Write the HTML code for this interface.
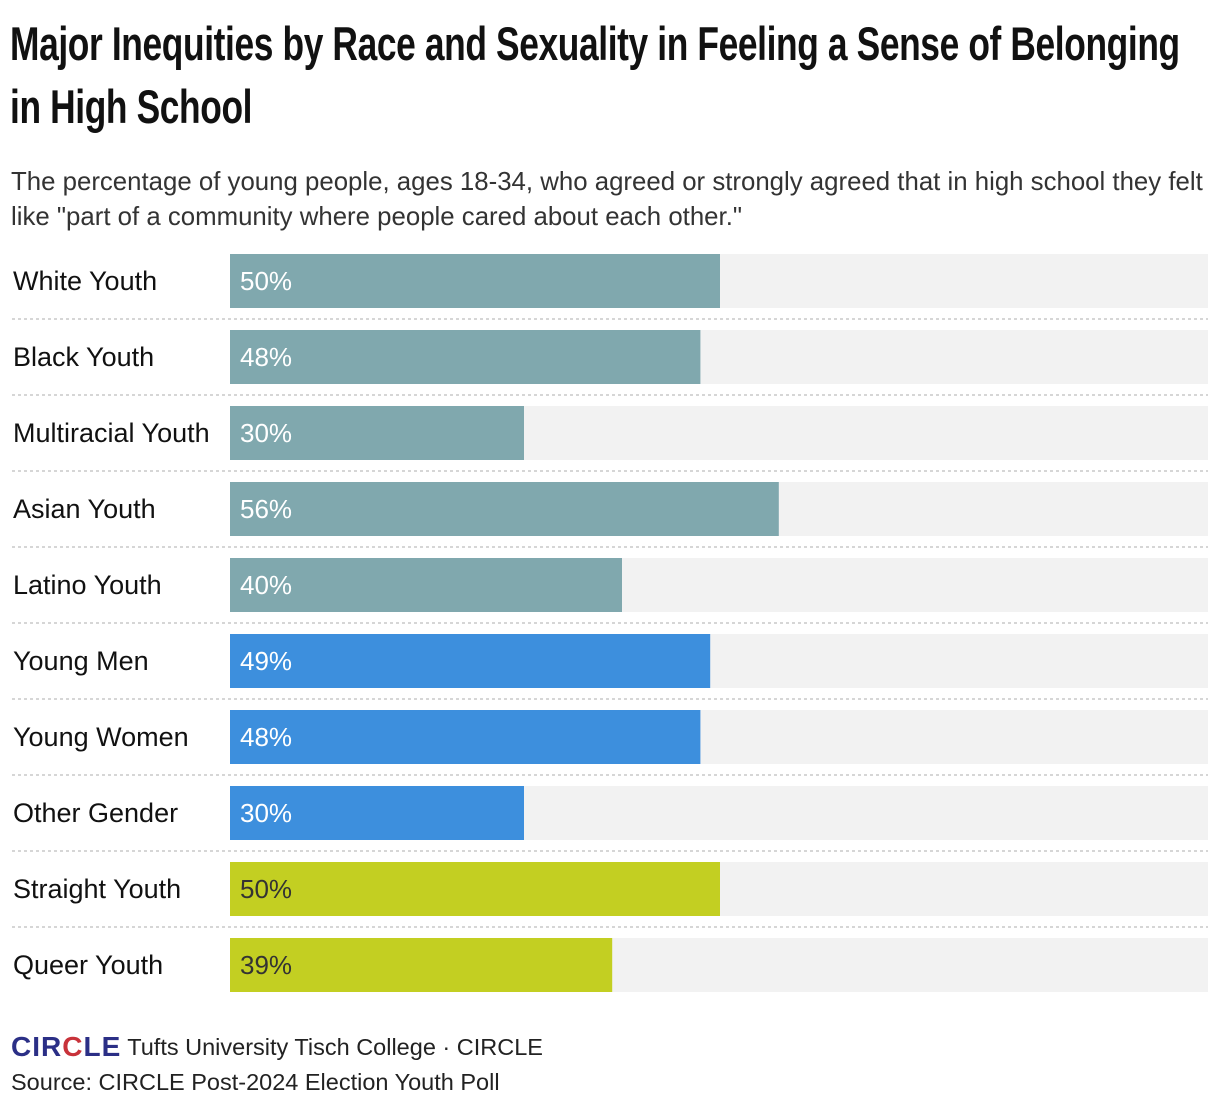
<!DOCTYPE html>
<html><head><meta charset="utf-8">
<style>
body{margin:0;background:#fff;width:1220px;height:1114px;overflow:hidden;font-family:"Liberation Sans",sans-serif;color:#111}
#title{position:absolute;left:10px;top:12px;font-family:"Liberation Sans",sans-serif;font-weight:bold;font-size:47px;line-height:63px;letter-spacing:-0.5px;margin:0;white-space:nowrap;transform:scaleX(0.752);transform-origin:0 0}
#sub{position:absolute;left:11px;top:165px;font-size:25.8px;line-height:35px;color:#333;width:1210px;white-space:nowrap}
#chart{position:absolute;left:0;top:0}
#foot{position:absolute;left:11px;top:1031px;color:#222}
</style></head><body>
<div id="title">Major Inequities by Race and Sexuality in Feeling a Sense of Belonging<br>in High School</div>
<div id="sub">The percentage of young people, ages 18-34, who agreed or strongly agreed that in high school they felt<br>like "part of a community where people cared about each other."</div>
<svg id="chart" width="1220" height="1114"></svg>
<div id="foot">
<div style="display:flex;align-items:center;height:32px;font-size:23.5px"><span style="font-weight:bold;font-size:28px;color:#2b2f86;letter-spacing:1px;margin-right:6px">CIR<span style="color:#c8323a">C</span>LE</span>Tufts University Tisch College · CIRCLE</div>
<div style="margin-top:6px;font-size:23.5px">Source: CIRCLE Post-2024 Election Youth Poll</div>
</div>
<script>
const categories=["White Youth","Black Youth","Multiracial Youth","Asian Youth","Latino Youth","Young Men","Young Women","Other Gender","Straight Youth","Queer Youth"];
const values=[50,48,30,56,40,49,48,30,50,39];
const groups=["race","race","race","race","race","gender","gender","gender","sex","sex"];
const colors={race:"#80a8ae",gender:"#3d8fdd",sex:"#c3cf22"};
const textColors={race:"#fff",gender:"#fff",sex:"#333"};
const NS="http://www.w3.org/2000/svg";
const svg=document.getElementById("chart");
const x0=230,trackW=978,top0=254,step=76,bh=54;
const xs=v=>v/100*980;
const ys=i=>top0+i*step;
function mk(t,a){const e=document.createElementNS(NS,t);for(const k in a)e.setAttribute(k,a[k]);svg.appendChild(e);return e;}
categories.forEach((c,i)=>{
 const y=ys(i);
 const tr=mk("rect",{x:x0,y:y,width:trackW,height:bh,fill:"#f2f2f2"});
 
 
 const b=mk("rect",{x:x0,y:y,width:xs(values[i]),height:bh,fill:colors[groups[i]]});
 
 
 const l=mk("text",{x:13,y:y+bh/2+9,"font-size":27,fill:"#111","font-family":"Liberation Sans, sans-serif"});
 l.textContent=c;
 
 
 const v=mk("text",{x:x0+10,y:y+bh/2+9,"font-size":26,fill:textColors[groups[i]],"font-family":"Liberation Sans, sans-serif"});
 v.textContent=values[i]+"%";
 
 
 if(i<categories.length-1){
  const s=mk("line",{x1:12,x2:1208,y1:y+bh+11,y2:y+bh+11,stroke:"#d6d6d6","stroke-width":2,"stroke-dasharray":"3,3"});
  
  
 }
});
</script>
</body></html>
